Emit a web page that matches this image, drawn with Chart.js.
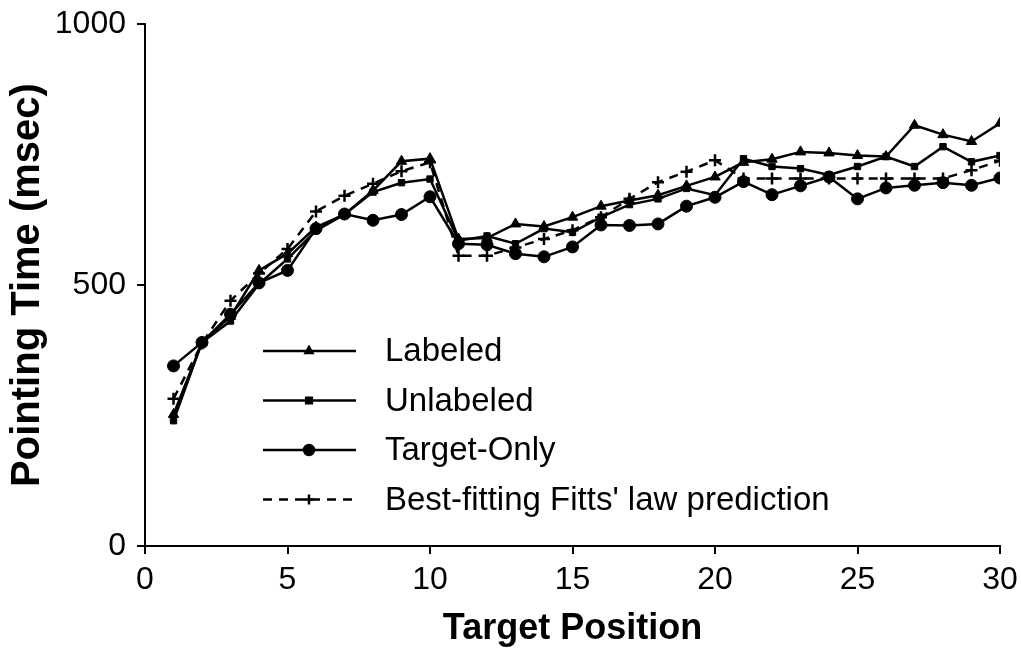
<!DOCTYPE html>
<html>
<head>
<meta charset="utf-8">
<script src="https://cdn.jsdelivr.net/npm/chart.js@4/dist/chart.umd.min.js"></script>
<style>
  html, body { margin: 0; padding: 0; background: #fff; }
  #wrap { width: 1021px; height: 649px; }
</style>
</head>
<body>
<div id="wrap"><canvas id="pointingChart" width="1021" height="649"></canvas></div>
<script>
const positions = [1, 2, 3, 4, 5, 6, 7, 8, 9, 10, 11, 12, 13, 14, 15, 16, 17, 18, 19, 20, 21, 22, 23, 24, 25, 26, 27, 28, 29, 30]
const labeled = [252, 390, 440, 528, 560, 611, 635, 681, 737, 742, 588, 590, 617, 612, 630, 651, 662, 672, 690, 707, 735, 741, 755, 753, 748, 746, 806, 788, 775, 810]
const unlabeled = [240, 390, 431, 502, 550, 604, 635, 678, 696, 703, 585, 594, 579, 608, 601, 630, 654, 665, 685, 672, 742, 727, 723, 711, 727, 746, 727, 765, 736, 748]
const targetOnly = [345, 390, 444, 504, 528, 608, 636, 624, 635, 669, 579, 577, 560, 554, 573, 615, 614, 617, 651, 668, 698, 673, 690, 707, 665, 686, 691, 696, 691, 705]
const fitts = [282, 388, 470, 522, 569, 641, 671, 694, 718, 735, 556, 556, 572, 588, 605, 630, 665, 697, 717, 739, 704, 704, 704, 704, 704, 704, 704, 704, 720, 738]
const xTicks = [0, 5, 10, 15, 20, 25, 30]
const yTicks = [0, 500, 1000]

const FONT = "'Liberation Sans', Arial, sans-serif"
const toPoints = (vals) => vals.map((v, i) => ({ x: positions[i], y: v }))

const series = [
    { label: "Labeled", data: labeled, style: "triangle", radius: 6, legendRadius: 4, dash: [] },
    { label: "Unlabeled", data: unlabeled, style: "rect", radius: 4.5, legendRadius: 4, dash: [] },
    { label: "Target-Only", data: targetOnly, style: "circle", radius: 6, legendRadius: 5, dash: [] },
    { label: "Best-fitting Fitts' law prediction", data: fitts, style: "cross", radius: 6, legendRadius: 5, dash: [9, 7] },
]

// legend drawn inside the plot, like the original figure
const insideLegend = {
    id: "insideLegend",
    afterDraw(chart) {
        const ctx = chart.ctx
        ctx.save()
        series.forEach((s, i) => {
            const y = 351 + i * 49.5
            ctx.strokeStyle = "#000"
            ctx.lineWidth = 2.5
            ctx.setLineDash(s.dash)
            ctx.beginPath()
            ctx.moveTo(263, y)
            ctx.lineTo(356, y)
            ctx.stroke()
            ctx.setLineDash([])
            ctx.fillStyle = "#000"
            Chart.helpers.drawPoint(ctx, { pointStyle: s.style, radius: s.legendRadius, borderWidth: 2 }, 309, y)
            if (s.style !== "cross") ctx.fill()
            ctx.font = "33px " + FONT
            ctx.textBaseline = "middle"
            ctx.fillText(s.label, 385, y + 1)
        })
        ctx.restore()
    },
}

const ctx = document.getElementById("pointingChart").getContext("2d")
const chart = new Chart(ctx, {
    type: "line",
    data: {
        datasets: series.map((s) => ({
            label: s.label,
            data: toPoints(s.data),
            borderColor: "#000",
            backgroundColor: "#000",
            borderWidth: 2.5,
            borderDash: s.dash,
            pointStyle: s.style,
            pointRadius: s.radius,
            pointBorderWidth: s.style === "cross" ? 2.5 : 1,
            pointBorderColor: "#000",
            pointBackgroundColor: "#000",
            tension: 0,
            fill: false,
        })),
    },
    plugins: [insideLegend],
    options: {
        responsive: false,
        animation: false,
        maintainAspectRatio: false,
        layout: {
            padding: { top: 24, right: 21, left: 0, bottom: 0 },
        },
        plugins: {
            legend: { display: false },
            tooltip: { enabled: false },
        },
        scales: {
            x: {
                type: "linear",
                min: 0,
                max: 30,
                afterBuildTicks: (scale) => {
                    scale.ticks = xTicks.map((v) => ({ value: v }))
                },
                afterFit: (scale) => {
                    scale.height = 103
                    scale.paddingLeft = 0
                    scale.paddingRight = 0
                },
                ticks: {
                    color: "#000",
                    font: { family: FONT, size: 32 },
                    padding: 7,
                    maxRotation: 0,
                    callback: (v) => String(v),
                },
                grid: {
                    drawOnChartArea: false,
                    drawTicks: true,
                    tickLength: 8,
                    color: "#000",
                    lineWidth: 2,
                },
                border: { display: true, color: "#000", width: 2 },
                title: {
                    display: true,
                    text: "Target Position",
                    color: "#000",
                    font: { family: FONT, size: 36, weight: "bold" },
                    padding: { top: 0, bottom: -2 },
                },
            },
            y: {
                min: 0,
                max: 1000,
                afterBuildTicks: (scale) => {
                    scale.ticks = yTicks.map((v) => ({ value: v }))
                },
                afterFit: (scale) => {
                    scale.width = 145
                    scale.paddingTop = 0
                    scale.paddingBottom = 0
                },
                ticks: {
                    color: "#000",
                    font: { family: FONT, size: 32 },
                    padding: 11,
                    callback: (v) => String(v),
                },
                grid: {
                    drawOnChartArea: false,
                    drawTicks: true,
                    tickLength: 8,
                    color: "#000",
                    lineWidth: 2,
                },
                border: { display: true, color: "#000", width: 2 },
                title: {
                    display: true,
                    text: "Pointing Time (msec)",
                    color: "#000",
                    font: { family: FONT, size: 40, weight: "bold" },
                    padding: { top: 4, bottom: 0 },
                },
            },
        },
    },
})
</script>
</body>
</html>
